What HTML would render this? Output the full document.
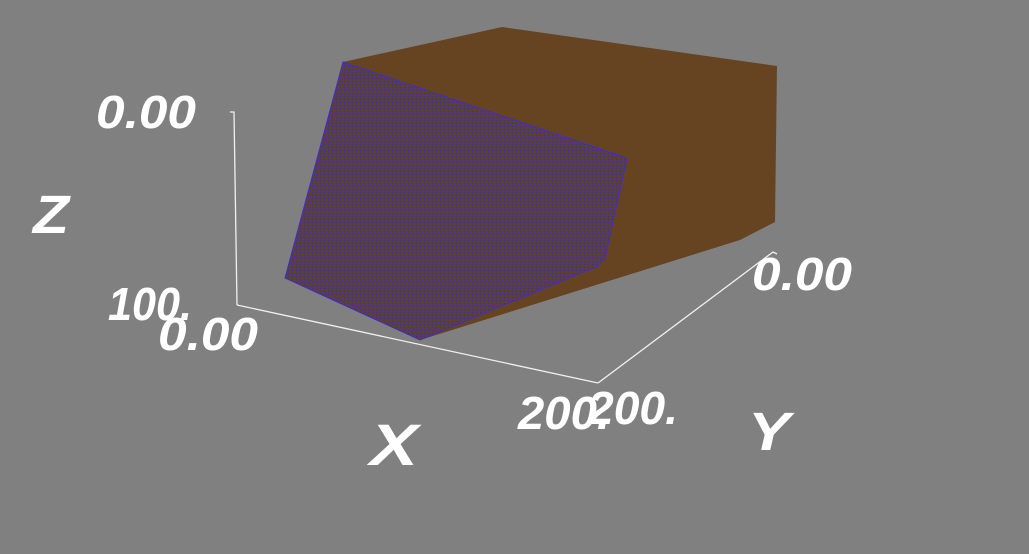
<!DOCTYPE html>
<html><head><meta charset="utf-8"><style>
html,body{margin:0;padding:0;background:#808080;}
svg{display:block}
text{font-family:"Liberation Sans",sans-serif;font-style:italic;fill:#fff;font-weight:bold;}
</style></head><body>
<svg width="1029" height="554" viewBox="0 0 1029 554">
<defs>
<pattern id="dots" width="4" height="3" patternUnits="userSpaceOnUse">
<rect width="4" height="3" fill="#5f4030"/>
<rect x="0" y="0" width="1" height="1" fill="#3a2c9a"/>
<rect x="2" y="1" width="1" height="1" fill="#45349a"/>
</pattern>
</defs>
<rect width="1029" height="554" fill="#808080"/>
<polygon points="343,62 502,27 777,66 775,222 740,240 420,340 285,278" fill="#664422"/>
<polygon points="343,62 627,158 605,258 598,266 420,340 285,278" fill="url(#dots)" stroke="#3a30c8" stroke-width="1"/>
<g stroke="#f0f0f0" stroke-width="1.3" fill="none">
<polyline points="230,112 234,112 237,305"/>
<line x1="237" y1="305" x2="598" y2="383"/>
<polyline points="598,383 773,252 777,254"/>
</g>
<g font-size="46">
<text x="96" y="128" textLength="100" lengthAdjust="spacingAndGlyphs">0.00</text>
<text x="33" y="233" font-size="54" textLength="36" lengthAdjust="spacingAndGlyphs">Z</text>
<text x="108" y="320" textLength="84" lengthAdjust="spacingAndGlyphs">100.</text>
<text x="158" y="350" textLength="100" lengthAdjust="spacingAndGlyphs">0.00</text>
<text x="370" y="465" font-size="58" textLength="48" lengthAdjust="spacingAndGlyphs">X</text>
<text x="518" y="429" textLength="92" lengthAdjust="spacingAndGlyphs">200.</text>
<text x="588" y="424" textLength="90" lengthAdjust="spacingAndGlyphs">200.</text>
<text x="748" y="450" font-size="54" textLength="42" lengthAdjust="spacingAndGlyphs">Y</text>
<text x="752" y="290" textLength="100" lengthAdjust="spacingAndGlyphs">0.00</text>
</g>
</svg>
</body></html>
